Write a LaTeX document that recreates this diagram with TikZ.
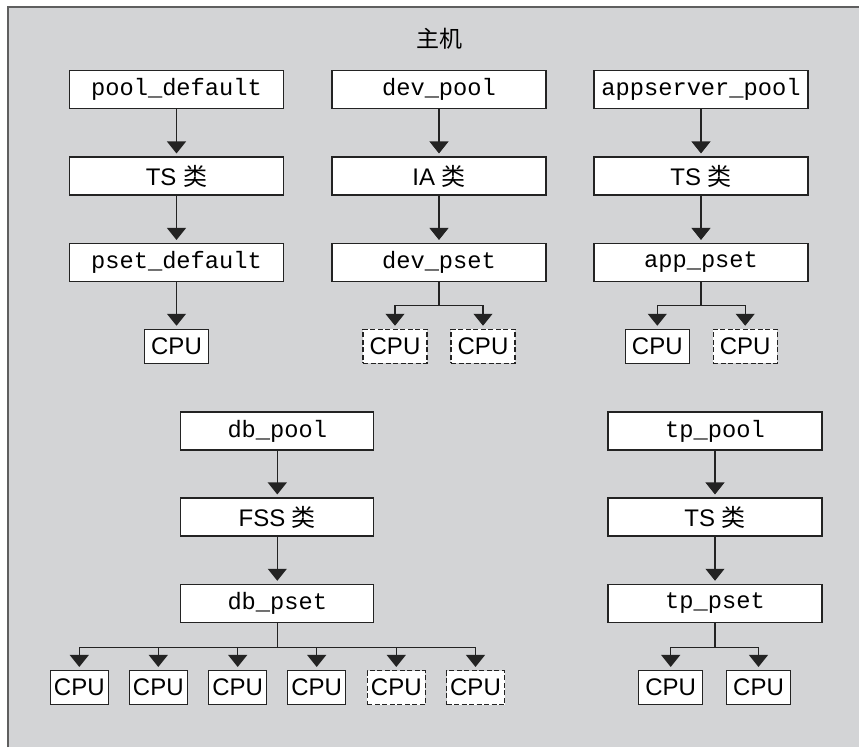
\documentclass[tikz,border=0pt]{standalone}
\usepackage{fontspec}
\setmainfont{Liberation Sans}
\setmonofont{Liberation Mono}
\newfontfamily\cjk{Noto Sans CJK SC}
\usetikzlibrary{arrows.meta}
\definecolor{bggray}{RGB}{211,212,214}
\definecolor{framegray}{RGB}{95,95,95}
\definecolor{ink}{RGB}{35,35,35}
\begin{document}
\begin{tikzpicture}[x=1pt,y=-1pt,
  box/.style={draw=ink,fill=white,line width=1.1pt,inner sep=0pt,minimum height=38pt},
  wbox/.style={box,minimum width=214pt},
  dbbox/.style={box,minimum width=193pt},
  cpu/.style={draw=ink,fill=white,line width=1.1pt,inner sep=0pt,minimum height=34pt,minimum width=64pt,font=\fontsize{24}{28}\selectfont},
  scpu/.style={cpu,minimum width=58pt},
  spare/.style={dash pattern=on 5pt off 2.5pt},
  mono/.style={font=\fontsize{23.7}{28}\selectfont\ttfamily},
  cls/.style={font=\fontsize{24}{28}\selectfont},
  arr/.style={draw=ink,line width=1.1pt,-{Triangle[width=19pt,length=12pt]},shorten >=3pt}
]
\useasboundingbox (0,0) rectangle (859,747);
\fill[bggray] (8,7) rectangle (859,747);
\draw[framegray,line width=2pt] (8,747) -- (8,7) -- (859,7);

\node[font=\cjk\fontsize{23}{27}\selectfont] (title) at (439.5,39) {主机};

% column 1
\node[wbox,mono] (p1) at (176.5,89.5) {pool\_default};
\node[wbox,cls] (c1) at (176.5,176) {TS {\cjk 类}};
\node[wbox,mono] (s1) at (176.5,262.5) {pset\_default};
\node[cpu] (u1) at (176.5,346.3) {CPU};
\draw[arr] (p1) -- (c1);
\draw[arr] (c1) -- (s1);
\draw[arr] (s1) -- (u1);

% column 2
\node[wbox,mono] (p2) at (439,89.5) {dev\_pool};
\node[wbox,cls] (c2) at (439,176) {IA {\cjk 类}};
\node[wbox,mono] (s2) at (439,262.5) {dev\_pset};
\node[cpu,spare] (u2a) at (395,346.3) {CPU};
\node[cpu,spare] (u2b) at (483,346.3) {CPU};
\draw[arr] (p2) -- (c2);
\draw[arr] (c2) -- (s2);
\draw[arr] (s2.south) -- ++(0,23.5) -| (u2a.north);
\draw[arr] (s2.south) -- ++(0,23.5) -| (u2b.north);

% column 3
\node[wbox,mono] (p3) at (701,89.5) {appserver\_pool};
\node[wbox,cls] (c3) at (701,176) {TS {\cjk 类}};
\node[wbox,mono] (s3) at (701,262.5) {app\_pset};
\node[cpu] (u3a) at (657.3,346.3) {CPU};
\node[cpu,spare] (u3b) at (745.2,346.3) {CPU};
\draw[arr] (p3) -- (c3);
\draw[arr] (c3) -- (s3);
\draw[arr] (s3.south) -- ++(0,23.5) -| (u3a.north);
\draw[arr] (s3.south) -- ++(0,23.5) -| (u3b.north);

% db column
\node[dbbox,mono] (p4) at (277.3,431) {db\_pool};
\node[dbbox,cls] (c4) at (277.3,517) {FSS {\cjk 类}};
\node[dbbox,mono] (s4) at (277.3,603.3) {db\_pset};
\node[scpu] (u41) at (79.3,687.5) {CPU};
\node[scpu] (u42) at (158.3,687.5) {CPU};
\node[scpu] (u43) at (237.7,687.5) {CPU};
\node[scpu] (u44) at (316.7,687.5) {CPU};
\node[scpu,spare] (u45) at (396.3,687.5) {CPU};
\node[scpu,spare] (u46) at (475.5,687.5) {CPU};
\draw[arr] (p4) -- (c4);
\draw[arr] (c4) -- (s4);
\foreach \u in {u41,u42,u43,u44,u45,u46}
  \draw[arr] (s4.south) -- ++(0,24.4) -| (\u.north);

% tp column
\node[wbox,mono] (p5) at (715,431) {tp\_pool};
\node[wbox,cls] (c5) at (715,517) {TS {\cjk 类}};
\node[wbox,mono] (s5) at (715,603.3) {tp\_pset};
\node[cpu] (u5a) at (670.7,687.5) {CPU};
\node[cpu] (u5b) at (758.5,687.5) {CPU};
\draw[arr] (p5) -- (c5);
\draw[arr] (c5) -- (s5);
\draw[arr] (s5.south) -- ++(0,24.4) -| (u5a.north);
\draw[arr] (s5.south) -- ++(0,24.4) -| (u5b.north);
\end{tikzpicture}
\end{document}
